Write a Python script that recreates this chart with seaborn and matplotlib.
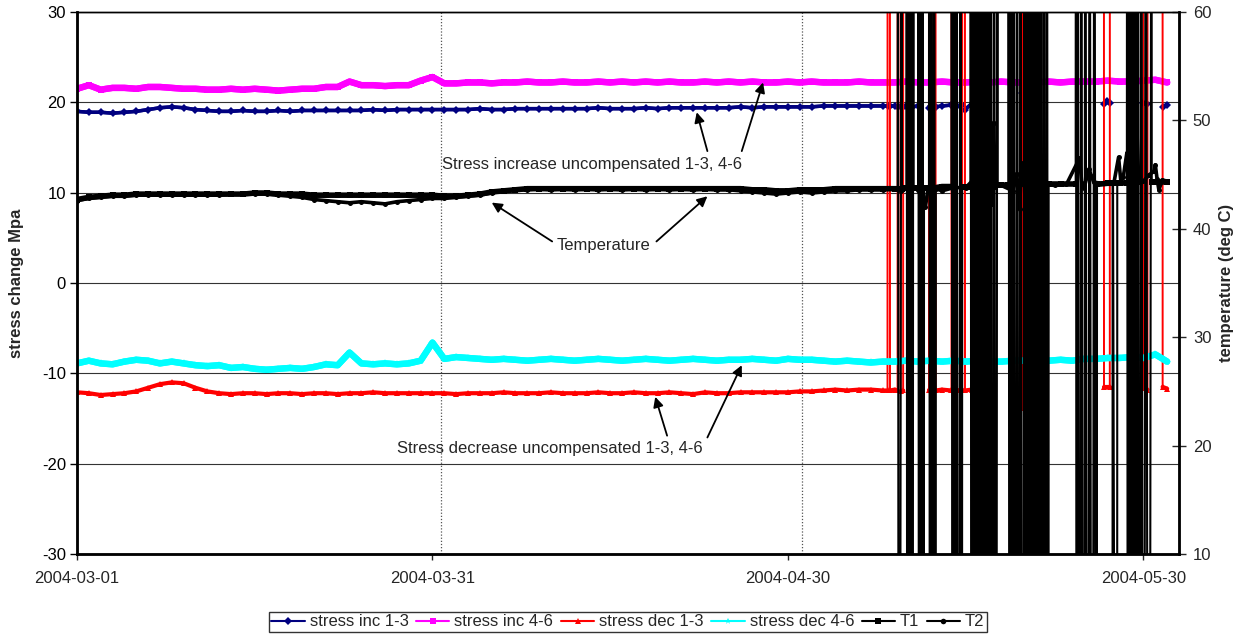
import numpy as np
import pandas as pd
import matplotlib
matplotlib.use("Agg")
import matplotlib.pyplot as plt
import matplotlib.dates as mdates
from matplotlib.lines import Line2D
import seaborn as sns

# ---------------- data ----------------
START = "2004-03-01"
x_tick_dates = ["2004-03-01", "2004-03-31", "2004-04-30", "2004-05-30"]
event_days = [30.7, 61.2]          # dotted vertical marker lines

full_days = list(range(0, 93))     # magenta / cyan, daily
early_days = list(range(0, 68))    # other series before the dropout period

inc46 = [21.5, 21.9, 21.4, 21.6, 21.6, 21.5, 21.7, 21.7, 21.6, 21.5,
         21.5, 21.4, 21.4, 21.5, 21.4, 21.5, 21.4, 21.3, 21.4, 21.5,
         21.5, 21.7, 21.7, 22.3, 21.9, 21.9, 21.8, 21.9, 21.9, 22.4,
         22.8, 22.1, 22.1, 22.2, 22.2, 22.1, 22.2, 22.2, 22.3, 22.2,
         22.2, 22.3, 22.2, 22.2, 22.3, 22.2, 22.3, 22.2, 22.3, 22.2,
         22.3, 22.2, 22.2, 22.3, 22.2, 22.3, 22.2, 22.3, 22.2, 22.2,
         22.3, 22.2, 22.3, 22.2, 22.2, 22.2, 22.3, 22.2, 22.2, 22.2,
         22.3, 22.2, 22.2, 22.3, 22.2, 22.2, 22.3, 22.2, 22.3, 22.2,
         22.2, 22.2, 22.3, 22.2, 22.3, 22.3, 22.3, 22.4, 22.3, 22.3,
         22.4, 22.5, 22.2]

dec46 = [-8.9, -8.6, -8.9, -9.0, -8.7, -8.5, -8.6, -8.9, -8.7, -8.9,
         -9.1, -9.2, -9.1, -9.4, -9.3, -9.5, -9.6, -9.5, -9.4, -9.5,
         -9.3, -9.0, -9.1, -7.7, -8.9, -9.0, -8.9, -9.0, -8.9, -8.6,
         -6.6, -8.4, -8.2, -8.3, -8.4, -8.5, -8.4, -8.5, -8.6, -8.5,
         -8.4, -8.5, -8.6, -8.5, -8.4, -8.5, -8.6, -8.5, -8.4, -8.5,
         -8.6, -8.5, -8.4, -8.5, -8.6, -8.5, -8.5, -8.4, -8.5, -8.6,
         -8.4, -8.5, -8.5, -8.6, -8.7, -8.6, -8.7, -8.8, -8.7, -8.7,
         -8.6, -8.7, -8.6, -8.7, -8.6, -8.7, -8.6, -8.7, -8.7, -8.6,
         -8.6, -8.5, -8.6, -8.5, -8.6, -8.4, -8.4, -8.3, -8.3, -8.2,
         -8.3, -7.9, -8.7]

inc13_early = [19.0, 18.9, 18.9, 18.8, 18.9, 19.0, 19.2, 19.4, 19.5, 19.4,
               19.2, 19.1, 19.0, 19.0, 19.1, 19.0, 19.0, 19.1, 19.0, 19.1,
               19.1, 19.1, 19.1, 19.1, 19.1, 19.2, 19.1, 19.2, 19.2, 19.2,
               19.2, 19.2, 19.2, 19.2, 19.3, 19.2, 19.2, 19.3, 19.3, 19.3,
               19.3, 19.3, 19.3, 19.3, 19.4, 19.3, 19.3, 19.3, 19.4, 19.3,
               19.4, 19.4, 19.4, 19.4, 19.4, 19.4, 19.5, 19.4, 19.5, 19.5,
               19.5, 19.5, 19.5, 19.6, 19.6, 19.6, 19.6, 19.6]
inc13_late_days = [68.0, 68.40, 68.5, 68.61, 69.0, 69.25, 69.4, 69.51, 69.72, 70.0,
                   70.5, 71.0, 71.3, 71.90, 72.11, 72.3, 72.46, 73.0, 73.80, 74.0,
                   74.24, 74.70, 74.8, 74.94, 75.7, 76.29, 78.0, 79.77, 79.94, 83.0,
                   86.67, 86.9, 87.16, 88.0, 89.99, 90.34, 91.0, 91.62, 92.0]
inc13_late = [19.6, 19.6, np.nan, 19.6, 19.6, 19.5, np.nan, 19.6, 19.5, 19.6,
              19.5, 19.6, np.nan, 19.4, 19.6, np.nan, 19.5, 19.6, 19.7, np.nan,
              19.6, 19.7, np.nan, 19.2, 20.1, 20.1, np.nan, 21.0, 19.0, np.nan,
              19.8, 20.2, 19.9, np.nan, 19.9, 19.8, np.nan, 19.5, 19.7]

dec13_early = [-12.1, -12.2, -12.4, -12.3, -12.2, -12.0, -11.6, -11.2, -11.0, -11.1,
               -11.6, -12.0, -12.2, -12.3, -12.2, -12.2, -12.3, -12.2, -12.2, -12.3,
               -12.2, -12.2, -12.3, -12.2, -12.2, -12.1, -12.2, -12.2, -12.2, -12.2,
               -12.2, -12.2, -12.3, -12.2, -12.2, -12.2, -12.1, -12.2, -12.2, -12.2,
               -12.1, -12.2, -12.2, -12.2, -12.1, -12.2, -12.2, -12.1, -12.2, -12.2,
               -12.1, -12.2, -12.3, -12.1, -12.2, -12.2, -12.1, -12.1, -12.1, -12.1,
               -12.1, -12.0, -12.0, -11.9, -11.8, -11.9, -11.8, -11.8]
dec13_late_days = [68.0, 68.40, 68.41, 68.60, 68.61, 69.0, 69.25, 69.26, 69.50, 69.51,
                   69.72, 69.73, 71.89, 71.90, 72.11, 72.12, 72.45, 72.46, 73.0, 73.80,
                   73.81, 74.23, 74.24, 74.70, 74.71, 74.93, 74.94, 75.5, 76.29, 76.30,
                   79.76, 79.77, 79.80, 86.66, 86.67, 87.16, 87.17, 89.98, 89.99, 90.34,
                   90.35, 91.61, 91.62, 92.0]
dec13_late = [-11.9, -11.9, 99, 99, -11.9, -11.8, -11.9, 99, 99, -12.0,
              -11.9, 99, 99, -11.9, -11.9, 99, 99, -11.9, -11.8, -11.9,
              99, 99, -11.9, -11.8, 99, 99, -11.9, -11.8, -11.8, 99,
              99, -13.8, 99, 99, -11.5, -11.5, 99, 99, -11.6, -11.8,
              99, 99, -11.5, -11.7]

T1_early = [42.7, 42.9, 43.0, 43.1, 43.1, 43.2, 43.2, 43.2, 43.2, 43.2,
            43.2, 43.2, 43.2, 43.2, 43.2, 43.3, 43.3, 43.2, 43.2, 43.2,
            43.1, 43.1, 43.1, 43.1, 43.1, 43.1, 43.1, 43.1, 43.1, 43.1,
            43.1, 43.0, 43.0, 43.1, 43.2, 43.4, 43.5, 43.6, 43.7, 43.7,
            43.7, 43.7, 43.7, 43.7, 43.7, 43.7, 43.7, 43.7, 43.7, 43.7,
            43.7, 43.7, 43.7, 43.7, 43.7, 43.7, 43.7, 43.6, 43.6, 43.5,
            43.5, 43.6, 43.6, 43.6, 43.7, 43.7, 43.7, 43.7]
T1_late_days = [68.0, 69.0, 69.26, 69.28, 69.36, 69.60, 69.62,
                70.0, 70.02, 70.08, 70.14, 70.20, 70.28, 70.34, 70.42, 70.50, 70.58, 70.60,
                70.98, 71.00, 71.08, 71.18, 71.26, 71.36, 71.46, 71.48,
                71.90, 71.92, 72.00, 72.10, 72.22, 72.34, 72.46, 72.48,
                73.0, 73.80, 73.82, 73.90, 74.00, 74.10, 74.22, 74.44, 74.56, 74.68, 74.70,
                75.0, 75.40, 75.42, 75.50, 75.58, 75.68, 75.76, 75.86, 75.94, 76.04, 76.12,
                76.22, 76.30, 76.40, 76.48, 76.58, 76.68, 76.78, 76.90, 77.00, 77.12, 77.24,
                77.40, 77.54, 77.68, 77.70,
                78.0, 78.60, 78.62, 78.72, 78.84, 78.96, 79.06, 79.20, 79.34, 79.48, 79.62,
                79.84, 79.96, 80.06, 80.16, 80.26, 80.36, 80.46, 80.56, 80.64, 80.74, 80.84,
                80.94, 81.04, 81.14, 81.26, 81.38, 81.50, 81.62, 81.74, 81.86, 81.98, 82.00,
                83.0, 84.28, 84.30, 84.38, 84.46, 84.60, 84.76, 84.92, 85.10, 85.28, 85.46,
                85.66, 85.86, 86.06, 86.08,
                87.0, 87.40, 87.41, 87.43, 87.77, 87.79,
                88.0, 88.60, 88.62, 88.70, 88.78, 88.86, 88.96, 89.06, 89.14, 89.24, 89.32,
                89.42, 89.54, 89.66, 89.82, 90.00, 90.20, 90.45, 90.68, 90.70,
                91.0, 92.0]
T1_late = [43.7, 43.7, 43.7, 99, -99, 99, 43.7,
           43.8, 99, -99, 99, -99, 99, -99, 99, -99, 99, 43.8,
           43.8, 99, -99, 99, -99, 99, -99, 43.8,
           43.8, 99, -99, 99, -99, 99, -99, 43.8,
           43.9, 43.9, 99, -99, 99, -99, 99, -99, 99, -99, 43.9,
           43.9, 43.9, 99, -99, 99, -99, 99, -99, 99, -99, 99,
           -99, 99, -99, 99, -99, 99, -99, 99, -99, 99, -99,
           99, -99, 99, 44.0,
           44.0, 44.0, 99, -99, 99, -99, 99, -99, 99, -99, 99,
           -99, 99, -99, 99, -99, 99, -99, 99, -99, 99, -99,
           99, -99, 99, -99, 99, -99, 99, -99, 99, -99, 44.1,
           44.1, 44.1, 99, -99, 99, -99, 99, -99, 99, -99, 99,
           -99, 99, -99, 44.1,
           44.2, 44.2, -99, 44.2, -99, 44.2,
           44.2, 44.2, 99, -99, 99, -99, 99, -99, 99, -99, 99,
           -99, 99, -99, 99, -99, 99, -99, 99, 44.3,
           44.3, 44.3]

T2_early = [42.6, 42.8, 42.9, 43.0, 43.0, 43.1, 43.1, 43.1, 43.1, 43.1,
            43.1, 43.1, 43.1, 43.2, 43.2, 43.2, 43.2, 43.1, 43.0, 42.9,
            42.7, 42.6, 42.5, 42.4, 42.5, 42.4, 42.3, 42.5, 42.6, 42.7,
            42.8, 42.8, 42.9, 43.0, 43.1, 43.3, 43.5, 43.6, 43.6, 43.7,
            43.6, 43.7, 43.6, 43.7, 43.6, 43.7, 43.6, 43.7, 43.6, 43.7,
            43.6, 43.7, 43.6, 43.7, 43.6, 43.6, 43.5, 43.4, 43.3, 43.2,
            43.3, 43.4, 43.3, 43.4, 43.5, 43.5, 43.6, 43.6]
T2_late_days = [68.0, 69.0, 69.5, 70.3, 71.0, 71.6, 71.8, 72.5, 73.0, 74.0,
                75.0, 75.8, 76.0, 77.2, 77.35, 77.5, 78.0, 79.0, 79.3, 79.55,
                79.7, 79.9, 80.5, 81.5, 81.7, 82.5, 83.5, 84.6, 84.8, 85.0,
                85.4, 85.6, 85.8, 86.5, 87.0, 87.5, 87.9, 88.1, 88.3, 88.6,
                88.8, 89.0, 89.2, 89.4, 89.6, 90.0, 90.5, 90.9, 91.0, 91.15,
                91.3, 91.6, 92.0]
T2_late = [43.6, 43.7, 43.5, 43.8, 43.6, 42.0, 43.6, 43.7, 43.5, 43.8,
           43.8, 44.7, 43.9, 42.3, 49.8, 43.9, 44.0, 43.5, 45.1, 41.8,
           46.1, 44.0, 44.2, 46.1, 44.1, 44.0, 44.1, 46.5, 44.2, 43.8,
           45.5, 44.9, 44.3, 44.2, 44.3, 44.2, 46.6, 44.3, 44.8, 47.0,
           44.5, 47.4, 44.6, 50.7, 44.3, 44.4, 45.0, 45.3, 45.9, 44.6,
           43.6, 44.5, 44.4]

# ---------------- helpers ----------------
t0 = pd.Timestamp(START)


def make_df(days, vals, keep_below=None):
    v = np.asarray(vals, dtype=float)
    if keep_below is not None:
        v = np.where(np.abs(v) < keep_below, v, np.nan)
    df = pd.DataFrame({"day": np.asarray(days, dtype=float), "value": v})
    df["seg"] = df["value"].isna().cumsum()
    df = df.dropna().copy()
    df["date"] = t0 + pd.to_timedelta(df["day"], unit="D")
    return df


# name, days, values, colour, marker, thin lw, band lw, marker size, axis
series = [
    ("stress inc 1-3", early_days + inc13_late_days, inc13_early + inc13_late,
     "#000080", "D", 2.5, 2.5, 3.6, 0),
    ("stress inc 4-6", full_days, inc46, "#FF00FF", "s", 4.6, 4.6, 4.4, 0),
    ("stress dec 1-3", early_days + dec13_late_days, dec13_early + dec13_late,
     "#FF0000", "^", 1.4, 3.0, 4.0, 0),
    ("stress dec 4-6", full_days, dec46, "#00FFFF", "*", 4.6, 4.6, 5.5, 0),
    ("T1", early_days + T1_late_days, T1_early + T1_late, "black", "s", 1.5, 4.0, 3.8, 1),
    ("T2", early_days + T2_late_days, T2_early + T2_late, "black", "o", 1.5, 2.6, 3.6, 1),
]

# ---------------- figure ----------------
sns.set_style("white")
plt.rcParams["font.family"] = ["Liberation Sans", "DejaVu Sans"]
plt.rcParams["font.size"] = 12
plt.rcParams["axes.unicode_minus"] = False

fig = plt.figure(figsize=(12.46, 6.35), dpi=100)
ax = fig.add_axes([77 / 1246, 1 - 554 / 635, 1102 / 1246, 542 / 635])
ax2 = ax.twinx()
axes = [ax, ax2]

ax.yaxis.grid(True, color="#333333", lw=0.8, zorder=0)
ax.set_axisbelow(True)

for d in event_days:
    ax.axvline(t0 + pd.Timedelta(days=d), color="#555555", lw=0.9,
               ls=(0, (1, 1.5)), zorder=1)

handles = []
for name, d, v, col, mk, lw_thin, lw_band, ms, ai in series:
    target = axes[ai]
    # thin line through every reading (incl. off-scale dropouts)
    df_all = make_df(d, v)
    sns.lineplot(data=df_all, x="date", y="value", units="seg", estimator=None,
                 color=col, lw=lw_thin, ax=target, legend=False)
    # thick band through the on-scale readings with markers
    df_on = make_df(d, v, keep_below=90)
    sns.lineplot(data=df_on, x="date", y="value", units="seg", estimator=None,
                 color=col, lw=lw_band, marker=mk, markersize=ms, markeredgewidth=0,
                 ax=target, legend=False)
    handles.append(Line2D([0], [0], color=col, lw=1.5, marker=mk,
                          markersize=5 if mk == "*" else 4,
                          markeredgewidth=0, label=name))

ax.set_ylim(-30, 30)
ax.set_yticks([-30, -20, -10, 0, 10, 20, 30])
ax2.set_ylim(10, 60)
ax2.set_yticks([10, 20, 30, 40, 50, 60])
ax.set_xlim(t0, pd.Timestamp("2004-06-02"))
ax.set_xticks(pd.to_datetime(x_tick_dates))
ax.xaxis.set_major_formatter(mdates.DateFormatter("%Y-%m-%d"))

ax.set_xlabel("")
ax.set_ylabel("stress change Mpa", fontweight="bold", fontsize=12)
ax.yaxis.set_label_coords(-0.048, 0.5)
ax2.set_xlabel("")
ax2.set_ylabel("temperature (deg C)", fontweight="bold", fontsize=12, rotation=90)
ax2.yaxis.set_label_coords(1.0363, 0.5)

ax.tick_params(axis="y", direction="out", length=5, width=1, pad=3, labelsize=12,
               left=True, colors="black")
ax.tick_params(axis="x", direction="out", length=4, width=1, pad=8, labelsize=12,
               bottom=True)
ax2.tick_params(axis="y", direction="inout", length=10, width=1, pad=5, labelsize=12,
                right=True)

for a in axes:
    for s in a.spines.values():
        s.set_color("black")
        s.set_linewidth(1.0)
ax.spines["left"].set_linewidth(2.0)
ax.spines["bottom"].set_linewidth(2.0)
ax2.spines["right"].set_linewidth(2.0)


def day(x):
    return t0 + pd.Timedelta(days=x)


arrow_kw = dict(arrowstyle="-|>", color="black", lw=1.3, mutation_scale=15,
                shrinkA=0, shrinkB=0)
ax.text(day(43.5), 13.1, "Stress increase uncompensated 1-3, 4-6",
        ha="center", va="center", fontsize=12, zorder=20)
ax.annotate("", xy=(day(52.3), 18.9), xytext=(day(53.2), 14.6), arrowprops=arrow_kw)
ax.annotate("", xy=(day(57.9), 22.2), xytext=(day(56.1), 14.6), arrowprops=arrow_kw)

ax.text(day(44.4), 4.2, "Temperature", ha="center", va="center", fontsize=12, zorder=20)
ax.annotate("", xy=(day(35.0), 8.9), xytext=(day(40.1), 4.6), arrowprops=arrow_kw)
ax.annotate("", xy=(day(53.2), 9.6), xytext=(day(48.9), 4.6), arrowprops=arrow_kw)

ax.text(day(39.9), -18.3, "Stress decrease uncompensated 1-3, 4-6",
        ha="center", va="center", fontsize=12, zorder=20)
ax.annotate("", xy=(day(48.8), -12.6), xytext=(day(49.8), -16.9), arrowprops=arrow_kw)
ax.annotate("", xy=(day(56.1), -9.1), xytext=(day(53.2), -17.1), arrowprops=arrow_kw)

leg = fig.legend(handles=handles, loc="center", bbox_to_anchor=(628 / 1246, 1 - 622 / 635),
                 ncol=6, frameon=True, fancybox=False, edgecolor="black", fontsize=12,
                 handlelength=2.0, handletextpad=0.3, columnspacing=0.45, borderpad=0.15,
                 borderaxespad=0.0)
leg.get_frame().set_linewidth(1.0)

fig.savefig("out.png", dpi=100)
